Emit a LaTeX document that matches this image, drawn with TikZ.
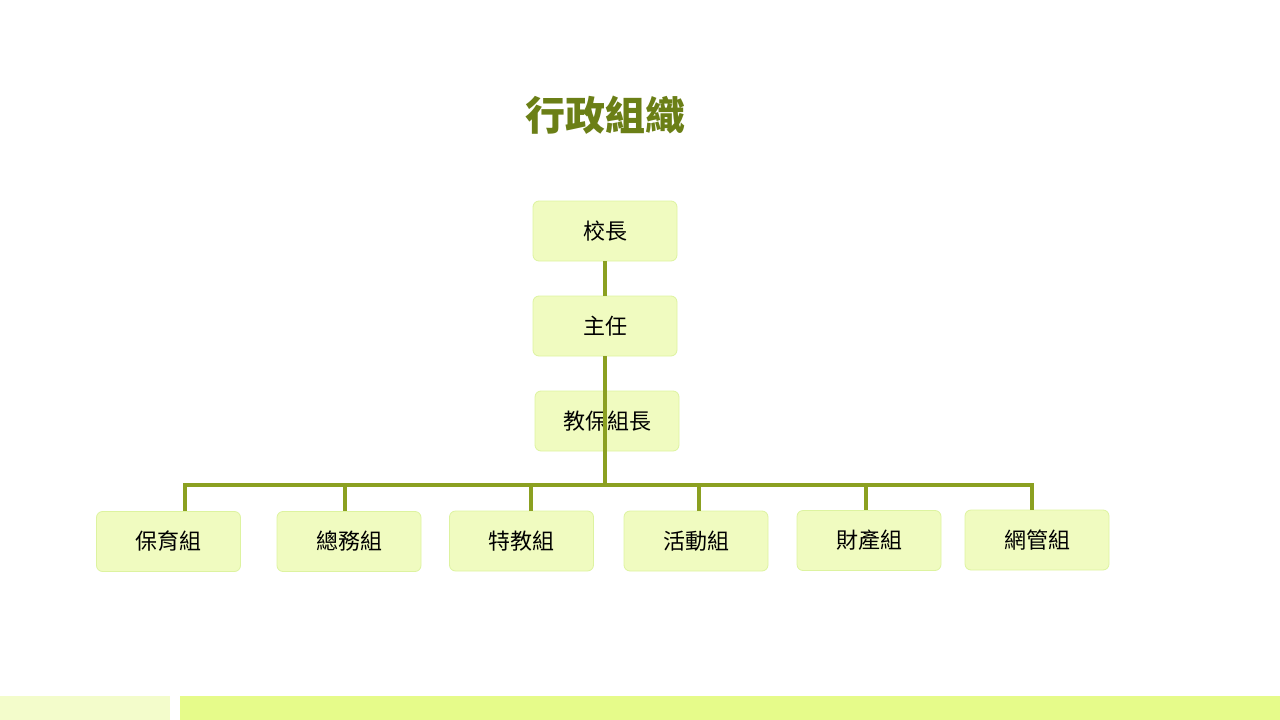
\documentclass[tikz,border=0pt]{standalone}
\usepackage{fontspec}
\setmainfont{Noto Sans CJK TC}
\begin{document}
\begin{tikzpicture}[x=1pt,y=-1pt,
  box/.style={draw=boxline,fill=boxfill,rounded corners=6pt,line width=0.8pt,minimum width=144pt,minimum height=60pt,inner sep=0pt,font=\fontsize{22}{24}\selectfont},
  conn/.style={draw=linecol,line width=4pt}]
\definecolor{boxfill}{HTML}{F0FBC0}
\definecolor{boxline}{HTML}{DDF3A0}
\definecolor{linecol}{HTML}{8BA021}
\definecolor{titlecol}{HTML}{6B7F16}
\definecolor{barA}{HTML}{F3FCCB}
\definecolor{barB}{HTML}{E6FB8A}
\useasboundingbox (0,0) rectangle (1280,720);
\fill[barA] (0,696) rectangle (170,720);
\fill[barB] (180,696) rectangle (1280,720);
\node[text=titlecol,font=\fontsize{40}{44}\selectfont\bfseries] (title) at (605,115) {行政組織};
\node[box] (a) at (605,231) {校長};
\node[box] (b) at (605,326) {主任};
\node[box] (c) at (607,421) {教保組長};
\node[box] (d1) at (168.5,541.5) {保育組};
\node[box] (d2) at (349,541.5) {總務組};
\node[box] (d3) at (521.5,541) {特教組};
\node[box] (d4) at (696,541) {活動組};
\node[box] (d5) at (869,540.5) {財產組};
\node[box] (d6) at (1037,540) {網管組};
\coordinate (bus) at (605,485);
\draw[conn] (a.south) -- (b.north);
\draw[conn] (b.south) -- (c.south -| b.south) ;
\draw[conn] (c.south -| bus) -- (bus);
\draw[conn] (183,485) -- (1034,485);
\foreach \n/\x in {d1/185,d2/345,d3/531,d4/699,d5/866,d6/1032}
  \draw[conn] (\x,485) -- (\x,0 |- \n.north);
\end{tikzpicture}
\end{document}
